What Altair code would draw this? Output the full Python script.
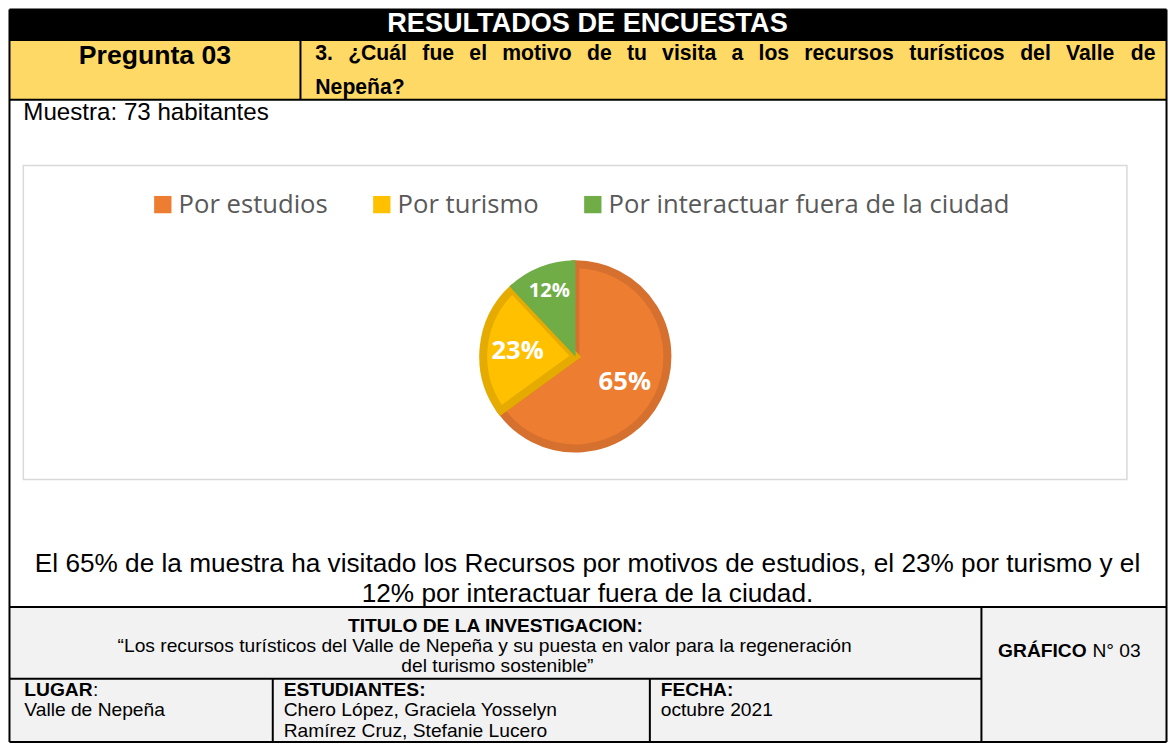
import altair as alt
import pandas as pd

# ---------------- data ----------------
categories = ["Por estudios", "Por turismo", "Por interactuar fuera de la ciudad"]
percentages = [65, 23, 12]
slice_colors = ["#ED7D31", "#FFC000", "#70AD47"]
slice_borders = ["#D5702E", "#E5AB00", "#70AD47"]

header_title = "RESULTADOS DE ENCUESTAS"
question_label = "Pregunta 03"
question_line1 = "3. ¿Cuál fue el motivo de tu visita a los recursos turísticos del Valle de"
question_line2 = "Nepeña?"
sample_text = "Muestra: 73 habitantes"
summary_lines = [
    "El 65% de la muestra ha visitado los Recursos por motivos de estudios, el 23% por turismo y el",
    "12% por interactuar fuera de la ciudad.",
]
research_label = "TITULO DE LA INVESTIGACION:"
research_lines = [
    "\u201cLos recursos turísticos del Valle de Nepeña y su puesta en valor para la regeneración",
    "del turismo sostenible\u201d",
]
place_label = "LUGAR"
place_value = "Valle de Nepeña"
students_label = "ESTUDIANTES:"
students = ["Chero López, Graciela Yosselyn", "Ramírez Cruz, Stefanie Lucero"]
date_label = "FECHA:"
date_value = "octubre 2021"
figure_bold = "GRÁFICO"
figure_rest = "N° 03"

# ---------------- layout (reference pixel frame) ----------------
CW, CH = 1160, 736
D0X, D1X = 2.5, 1174.5
D0Y, D1Y = 1.5, 751.5
SX, SY = CW / (D1X - D0X), CH / (D1Y - D0Y)
FS = (SX + SY) / 2
ARIAL = "Liberation Sans"
CAL = "Open Sans"

xs = alt.Scale(domain=[D0X, D1X], nice=False, zero=False)
ys = alt.Scale(domain=[D1Y, D0Y], nice=False, zero=False)

# Arial-Bold / Arial advance widths (per 1000 em)
BOLD_W = {" ": 278, ".": 278, "¿": 611, "?": 611, ":": 333, "3": 556, "0": 556,
          "C": 722, "V": 667, "N": 722, "L": 611, "U": 722, "G": 778, "A": 722, "R": 722,
          "Á": 722, "F": 611, "I": 278, "O": 778,
          "a": 556, "á": 556, "c": 556, "d": 611, "e": 556, "f": 333, "i": 278, "í": 278,
          "l": 278, "m": 889, "o": 611, "p": 611, "r": 389, "s": 556, "t": 333, "u": 611,
          "v": 556, "ñ": 611}
REG_W = {" ": 278, "N": 722, "°": 400, "0": 556, "3": 556}


def bold_width(s, size):
    return sum(BOLD_W.get(ch, 556) for ch in s) / 1000 * size


def reg_width(s, size):
    return sum(REG_W.get(ch, 556) for ch in s) / 1000 * size


def text_layer(rows, size, weight="normal", align="left", color="black", font=ARIAL):
    df = pd.DataFrame(rows, columns=["x", "y", "t"])
    return alt.Chart(df).mark_text(
        font=font, fontSize=size * FS, fontWeight=weight, align=align,
        baseline="middle", color=color
    ).encode(
        x=alt.X("x:Q", scale=xs, axis=None),
        y=alt.Y("y:Q", scale=ys, axis=None),
        text="t:N",
    )


def rect_layer(rows, stroke=None, sw=0):
    df = pd.DataFrame(rows, columns=["x", "y", "x2", "y2", "fill"])
    kw = {}
    if stroke:
        kw = dict(stroke=stroke, strokeWidth=sw)
    return alt.Chart(df).mark_rect(**kw).encode(
        x=alt.X("x:Q", scale=xs, axis=None), x2="x2:Q",
        y=alt.Y("y:Q", scale=ys, axis=None), y2="y2:Q",
        color=alt.Color("fill:N", scale=None),
    )


# table cells
L, R, T, B = 4, 1173, 3, 749.5
Y_HDR, Y_YEL, Y_FOOT, Y_MID = 34, 95, 612, 685
X_Q, X_GRAF, X_EST, X_FEC = 298, 986, 270, 651
cells = rect_layer([
    (L, T, R, B, "#FFFFFF"),
    (L, T, R, Y_HDR, "#000000"),
    (L, Y_HDR, R, Y_YEL, "#FFD966"),
    (L, Y_FOOT, R, B, "#F2F2F2"),
])
chart_box = rect_layer([(18, 162, 1133, 482, "#FFFFFF")], stroke="#D9D9D9", sw=1.5)

lines_df = pd.DataFrame([
    (L, T, R, T), (L, B, R, B), (L, T, L, B), (R, T, R, B),
    (L, Y_HDR, R, Y_HDR), (L, Y_YEL, R, Y_YEL), (X_Q, Y_HDR, X_Q, Y_YEL),
    (L, Y_FOOT, R, Y_FOOT), (X_GRAF, Y_FOOT, X_GRAF, B), (L, Y_MID, X_GRAF, Y_MID),
    (X_EST, Y_MID, X_EST, B), (X_FEC, Y_MID, X_FEC, B),
], columns=["x", "y", "x2", "y2"])
rules = alt.Chart(lines_df).mark_rule(color="black", strokeWidth=2).encode(
    x=alt.X("x:Q", scale=xs, axis=None), x2="x2:Q",
    y=alt.Y("y:Q", scale=ys, axis=None), y2="y2:Q",
)

# ---------------- pie ----------------
pie_df = pd.DataFrame({"cat": categories, "val": percentages, "ord": list(range(len(categories)))})
pie_df["lbl"] = [f"{v}%" for v in percentages]
PCX, PCY = (575.7 - D0X) * SX, (356.5 - D0Y) * SY
PR = 97.5 * FS

theta_enc = alt.Theta("val:Q", stack=True)
order_enc = alt.Order("ord:Q")

arc = alt.Chart(pie_df).mark_arc(
    radius=PR - 4, strokeJoin="miter", strokeMiterLimit=2
).encode(
    theta=theta_enc,
    order=order_enc,
    color=alt.Color("cat:N", scale=alt.Scale(domain=categories, range=slice_colors),
                    legend=alt.Legend(
                        orient="none", legendX=142, legendY=183.5,
                        direction="horizontal", title=None, symbolType="square",
                        symbolSize=300, symbolStrokeWidth=0, labelFont=CAL,
                        labelFontSize=26 * FS, labelColor="#595959", labelOffset=3,
                        columnPadding=41, padding=0, labelLimit=0)),
    stroke=alt.Stroke("cat:N", scale=alt.Scale(domain=categories, range=slice_borders), legend=None),
    strokeWidth=alt.StrokeWidth("val:Q", scale=alt.Scale(type="threshold", domain=[20], range=[0, 8]),
                                legend=None),
    x=alt.value(PCX), y=alt.value(PCY),
)

# borderless slice (the small one) drawn at full radius
arc_plain = alt.Chart(pie_df).mark_arc(radius=PR, color=slice_colors[2]).encode(
    theta=theta_enc,
    order=order_enc,
    opacity=alt.Opacity("val:Q", scale=alt.Scale(type="threshold", domain=[20], range=[1, 0]),
                        legend=None),
    x=alt.value(PCX), y=alt.value(PCY),
)

pie_labels = alt.Chart(pie_df).mark_text(
    font=CAL, fontWeight="bold", color="white", baseline="middle", align="center"
).encode(
    theta=theta_enc,
    order=order_enc,
    radius=alt.Radius("val:Q", scale=alt.Scale(type="linear", domain=[12, 23, 65],
                                               range=[70.5, 58, 55.5])),
    size=alt.Size("val:Q", scale=alt.Scale(type="threshold", domain=[20],
                                           range=[20.5 * FS, 26 * FS]), legend=None),
    text="lbl:N",
    x=alt.value(PCX), y=alt.value(PCY),
)

# ---------------- texts ----------------
Q_FS = 21.5
q_words = question_line1.split(" ")
q_start, q_end = 313, 1162
q_w = [bold_width(wd, Q_FS) for wd in q_words]
gap = (q_end - q_start - sum(q_w)) / (len(q_words) - 1)
q_rows, cx = [], q_start
for wd, ww in zip(q_words, q_w):
    q_rows.append((cx, 48, wd))
    cx += ww + gap
q_rows.append((q_start, 83, question_line2))

F_FS = 19.5
T_FS = 19.5
g_bw = bold_width(figure_bold, F_FS)
g_sp = reg_width(" ", F_FS)
g_total = g_bw + g_sp + reg_width(figure_rest, F_FS)
g_x0 = 1075 - g_total / 2

layers = [
    cells, chart_box, rules, arc, arc_plain, pie_labels,
    text_layer([(588, 18, header_title)], 27.5, "bold", "center", "white"),
    text_layer([(151, 50, question_label)], 27, "bold", "center"),
    text_layer(q_rows, Q_FS, "bold", "left"),
    text_layer([(18, 109, sample_text)], 24.5),
    text_layer([(588, 568, summary_lines[0]), (588, 598.5, summary_lines[1])], 26.6, align="center"),
    text_layer([(495, 631, research_label)], T_FS, "bold", "center"),
    text_layer([(484, 651.5, research_lines[0]), (497, 672, research_lines[1])], T_FS, align="center"),
    text_layer([(19, 696, place_label), (281, 696, students_label), (662, 696, date_label),
                (g_x0, 657, figure_bold)], F_FS, "bold"),
    text_layer([(19 + bold_width(place_label, F_FS), 696, ":"),
                (19, 717, place_value),
                (281, 717, students[0]), (281, 738, students[1]),
                (662, 717, date_value),
                (g_x0 + g_bw + g_sp, 657, figure_rest)], F_FS),
]

chart = alt.layer(*layers).properties(
    width=CW, height=CH, padding=0,
    autosize=alt.AutoSizeParams(type="fit", contains="padding"),
).configure_view(stroke=None)

chart.save("out.html", embed_options={"renderer": "svg", "actions": False})
